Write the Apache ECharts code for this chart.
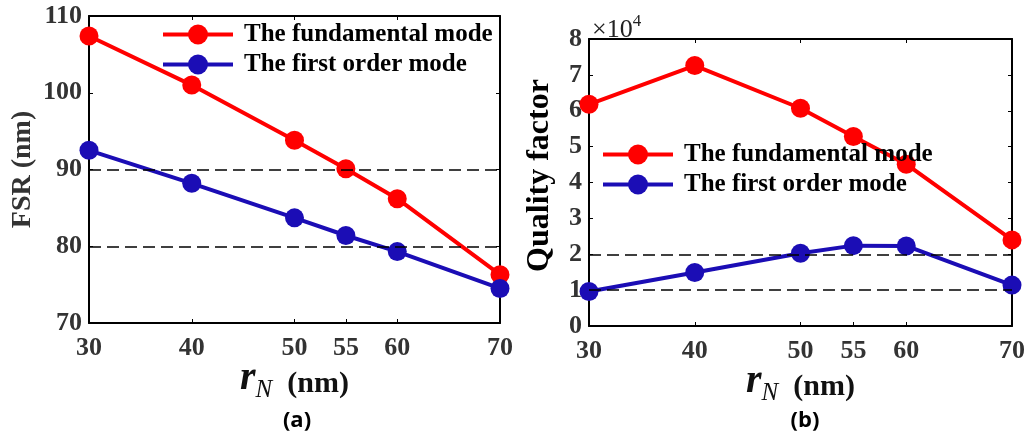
<!DOCTYPE html>
<html>
<head>
<meta charset="utf-8">
<style>
  html, body { margin: 0; padding: 0; background: #fff; }
  #chart { width: 1028px; height: 437px; }
</style>
<script src="https://cdn.jsdelivr.net/npm/echarts@6/dist/echarts.min.js"></script>
</head>
<body>
<div id="chart"></div>
<script>
// Ring radius r_N (nm)
const rN = [30, 40, 50, 55, 60, 70];
const xTicks = [30, 40, 50, 55, 60, 70];

// (a) free spectral range, nm
const fsrFundamental = [107.4, 101.0, 93.8, 90.1, 86.2, 76.3];
const fsrFirstOrder = [92.5, 88.2, 83.7, 81.4, 79.3, 74.5];

// (b) quality factor
const qFundamental = [61800, 72600, 60700, 52800, 45100, 24000];
const qFirstOrder = [9600, 14900, 20300, 22400, 22300, 11400];

// reference levels drawn as dashed lines
const fsrRefLevels = [80, 90];
const qRefLevels = [10000, 20000];

const seriesNames = ['The fundamental mode', 'The first order mode'];
const RED = '#ff0000';
const BLUE = '#1b0db5';
const SERIF = '"Liberation Serif", "Times New Roman", serif';

const pairs = (xs, ys) => xs.map((x, i) => [x, ys[i]]);

function boxAxisX(gridIndex, position, withLabels) {
  return {
    type: 'value', gridIndex, position, min: 30, max: 70,
    interval: 10,
    axisLine: { show: true, onZero: false, lineStyle: { color: '#000', width: 2 } },
    axisTick: withLabels
      ? { show: true, inside: true, length: 4, customValues: xTicks, lineStyle: { color: '#000' } }
      : { show: true, inside: true, length: 4, lineStyle: { color: '#000' } },
    axisLabel: withLabels
      ? { show: true, customValues: xTicks, margin: 12, color: '#333', fontFamily: SERIF,
          fontWeight: 'bold', fontSize: 26 }
      : { show: false },
    splitLine: { show: false }
  };
}

function boxAxisY(gridIndex, position, min, max, interval, withLabels, formatter) {
  return {
    type: 'value', gridIndex, position, min, max, interval,
    axisLine: { show: true, onZero: false, lineStyle: { color: '#000', width: 2 } },
    axisTick: { show: true, inside: true, length: 4, lineStyle: { color: '#000' } },
    axisLabel: withLabels
      ? { show: true, margin: 7, color: '#333', fontFamily: SERIF, fontWeight: 'bold',
          fontSize: 26, formatter }
      : { show: false },
    splitLine: { show: false }
  };
}

const xName = {
  name: '{r|r}{n|N}{u|  (nm)}',
  nameLocation: 'middle',
  nameGap: 36,
  nameMoveOverlap: false,
  nameTextStyle: {
    rich: {
      r: { fontFamily: SERIF, fontStyle: 'italic', fontWeight: 'bold', fontSize: 40, color: '#111',
           verticalAlign: 'bottom' },
      n: { fontFamily: SERIF, fontStyle: 'italic', fontSize: 25, color: '#111',
           padding: [0, 0, -4, 0], verticalAlign: 'bottom' },
      u: { fontFamily: SERIF, fontWeight: 'bold', fontSize: 30, color: '#111',
           verticalAlign: 'bottom' }
    }
  }
};

const xAxes = [
  Object.assign(boxAxisX(0, 'bottom', true), xName),
  boxAxisX(0, 'top', false),
  Object.assign(boxAxisX(1, 'bottom', true), xName),
  boxAxisX(1, 'top', false)
];

const yAxes = [
  Object.assign(boxAxisY(0, 'left', 70, 110, 10, true), {
    name: 'FSR (nm)', nameLocation: 'middle', nameGap: 52, nameRotate: 90,
    nameMoveOverlap: false,
    nameTextStyle: { fontFamily: SERIF, fontWeight: 'bold', fontSize: 28, color: '#333' }
  }),
  boxAxisY(0, 'right', 70, 110, 10, false),
  Object.assign(boxAxisY(1, 'left', 0, 80000, 10000, true, v => String(v / 10000)), {
    name: 'Quality factor', nameLocation: 'middle', nameGap: 33, nameRotate: 90,
    nameMoveOverlap: false,
    nameTextStyle: { fontFamily: SERIF, fontWeight: 'bold', fontSize: 32, color: '#000',
                     padding: [0, 0, 0, 14] }
  }),
  boxAxisY(1, 'right', 0, 80000, 10000, false)
];

function lineSeries(name, color, xi, yi, data) {
  return {
    name, type: 'line', xAxisIndex: xi, yAxisIndex: yi, data,
    symbol: 'circle', symbolSize: 19, z: 3,
    lineStyle: { color, width: 4 },
    itemStyle: { color },
    emphasis: { disabled: true },
    animation: false
  };
}

function refLines(xi, yi, levels) {
  return {
    type: 'line', xAxisIndex: xi, yAxisIndex: yi, data: [], z: 1, silent: true,
    animation: false,
    markLine: {
      silent: true, symbol: 'none', label: { show: false },
      lineStyle: { color: '#000', width: 1.5, type: [12, 6] },
      data: levels.map(v => ({ yAxis: v }))
    }
  };
}

const legendText = { fontFamily: SERIF, fontWeight: 'bold', fontSize: 25, color: '#000',
                     padding: [0, 0, 0, 6] };

const legendBase = {
  data: seriesNames, orient: 'vertical', itemWidth: 70, itemHeight: 25,
  itemGap: 5, textStyle: legendText, selectedMode: false,
  lineStyle: { width: 4 }
};

const option = {
  backgroundColor: '#fff',
  animation: false,
  grid: [
    { left: 89, top: 16, width: 411, height: 307 },
    { left: 589, top: 39, width: 424, height: 287 }
  ],
  xAxis: xAxes,
  yAxis: yAxes,
  legend: [
    Object.assign({ left: 156, top: 17 }, legendBase),
    Object.assign({ left: 596, top: 137 }, legendBase)
  ],
  series: [
    refLines(0, 0, fsrRefLevels),
    refLines(2, 2, qRefLevels),
    lineSeries(seriesNames[0], RED, 0, 0, pairs(rN, fsrFundamental)),
    lineSeries(seriesNames[1], BLUE, 0, 0, pairs(rN, fsrFirstOrder)),
    lineSeries(seriesNames[0], RED, 2, 2, pairs(rN, qFundamental)),
    lineSeries(seriesNames[1], BLUE, 2, 2, pairs(rN, qFirstOrder))
  ],
  graphic: [
    { type: 'text', left: 592, top: 13,
      style: { text: '{m|×10}{s|4}', rich: {
        m: { fontFamily: SERIF, fontSize: 26, fill: '#222', verticalAlign: 'bottom' },
        s: { fontFamily: SERIF, fontSize: 17, fill: '#222', verticalAlign: 'bottom', padding: [0, 0, 13, 0] }
      } } },
    { type: 'text', x: 297, y: 421,
      style: { text: '(a)', fontFamily: '"Open Sans", sans-serif', fontWeight: 'bold', fontSize: 22,
               fill: '#000', align: 'center', verticalAlign: 'middle' } },
    { type: 'text', x: 805, y: 421,
      style: { text: '(b)', fontFamily: '"Open Sans", sans-serif', fontWeight: 'bold', fontSize: 22,
               fill: '#000', align: 'center', verticalAlign: 'middle' } }
  ]
};

const chart = echarts.init(document.getElementById('chart'), null, { renderer: 'canvas' });
chart.setOption(option);
</script>
</body>
</html>
